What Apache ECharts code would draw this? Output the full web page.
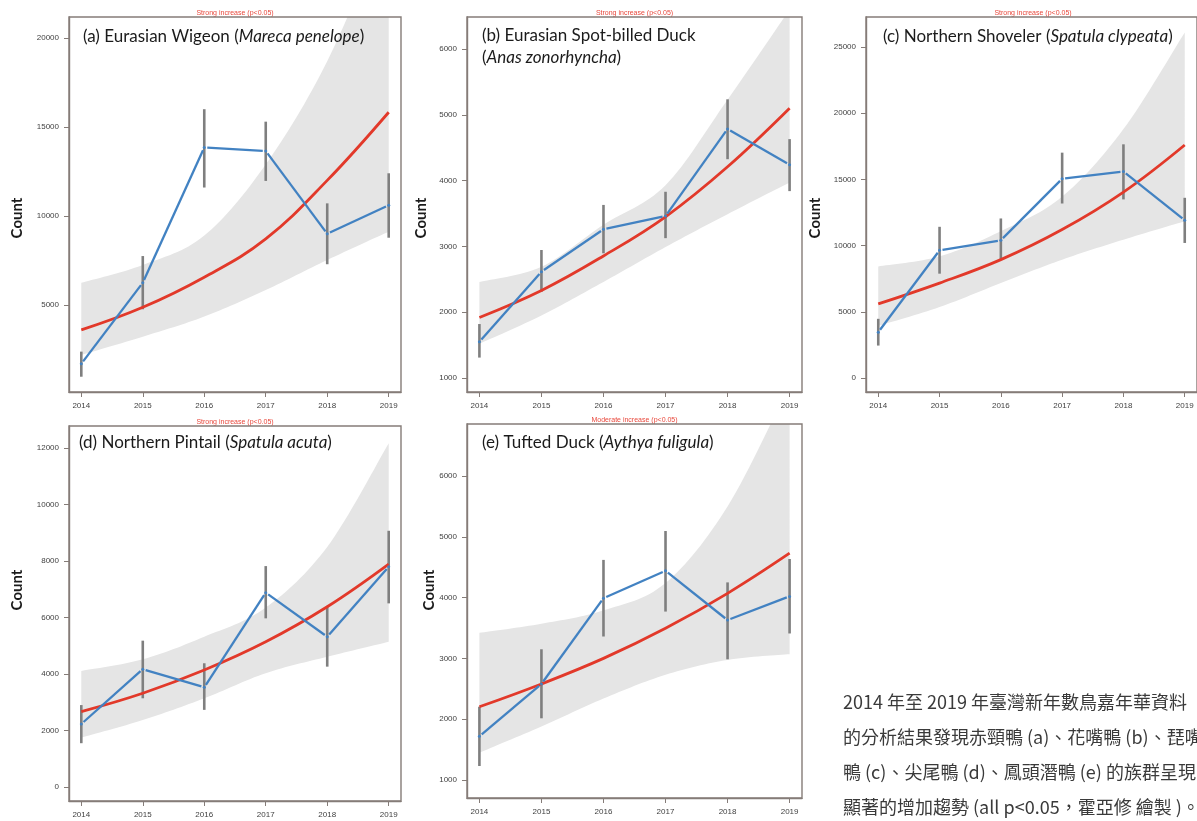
<!DOCTYPE html>
<html>
<head>
<meta charset="utf-8">
<script src="https://cdn.jsdelivr.net/npm/echarts@6.0.0/dist/echarts.min.js"></script>
<style>
  html, body { margin: 0; padding: 0; background: #ffffff; }
  #chart { width: 1197px; height: 821px; }
</style>
</head>
<body>
<div id="chart"></div>
<script>
// Survey years shared by every panel
const years = [2014, 2015, 2016, 2017, 2018, 2019];
const yearLabels = ['2014', '2015', '2016', '2017', '2018', '2019'];

// (a) Eurasian Wigeon
const wigeonCount = [1700, 6250, 13850, 13650, 9000, 10600];
const wigeonLow = [970, 4760, 11600, 11970, 7290, 8780];
const wigeonHigh = [2380, 7750, 16000, 15300, 10710, 12400];
const wigeonTrend = [3600, 4870, 6560, 8710, 12000, 15830];
const wigeonBandLow = [2190, 3220, 4350, 5840, 7530, 9120];
const wigeonBandHigh = [6250, 7250, 8900, 12900, 18700, 26700];
const wigeonTicks = [5000, 10000, 15000, 20000];

// (b) Eurasian Spot-billed Duck
const spotbillCount = [1550, 2615, 3260, 3460, 4785, 4240];
const spotbillLow = [1310, 2310, 2895, 3125, 4325, 3840];
const spotbillHigh = [1820, 2945, 3630, 3830, 5235, 4630];
const spotbillTrend = [1920, 2330, 2855, 3450, 4210, 5100];
const spotbillBandLow = [1520, 1950, 2460, 2990, 3490, 3970];
const spotbillBandHigh = [2460, 2690, 3330, 3930, 5230, 6600];
const spotbillTicks = [1000, 2000, 3000, 4000, 5000, 6000];

// (c) Northern Shoveler
const shovelerCount = [3460, 9640, 10400, 15050, 15600, 11920];
const shovelerLow = [2450, 7880, 8940, 13180, 13490, 10200];
const shovelerHigh = [4470, 11420, 12050, 17020, 17650, 13610];
const shovelerTrend = [5600, 7170, 8940, 11210, 14040, 17600];
const shovelerBandLow = [3940, 5360, 7170, 8940, 10450, 11840];
const shovelerBandHigh = [8430, 9190, 11090, 13700, 18800, 26100];
const shovelerTicks = [0, 5000, 10000, 15000, 20000, 25000];

// (d) Northern Pintail
const pintailCount = [2230, 4170, 3530, 6880, 5320, 7800];
const pintailLow = [1550, 3140, 2730, 5970, 4260, 6500];
const pintailHigh = [2900, 5180, 4380, 7820, 6410, 9070];
const pintailTrend = [2670, 3320, 4140, 5140, 6380, 7890];
const pintailBandLow = [1750, 2370, 3140, 4030, 4610, 5140];
const pintailBandHigh = [4110, 4520, 5320, 6350, 8500, 12170];
const pintailTicks = [0, 2000, 4000, 6000, 8000, 10000, 12000];

// (e) Tufted Duck
const tuftedCount = [1720, 2580, 3990, 4440, 3630, 4020];
const tuftedLow = [1230, 2015, 3360, 3770, 2985, 3410];
const tuftedHigh = [2205, 3150, 4620, 5095, 4250, 4635];
const tuftedTrend = [2205, 2580, 3000, 3495, 4070, 4730];
const tuftedBandLow = [1450, 1880, 2340, 2730, 2975, 3070];
const tuftedBandHigh = [3420, 3570, 3790, 4240, 5500, 7500];
const tuftedTicks = [1000, 2000, 3000, 4000, 5000, 6000];

// Panel headings and trend notes
const titles = [
  '{n|(a) Eurasian Wigeon (}{i|Mareca penelope}{n|)}',
  '{n|(b) Eurasian Spot-billed Duck}\n{n|(}{i|Anas zonorhyncha}{n|)}',
  '{n|(c) Northern Shoveler (}{i|Spatula clypeata}{n|)}',
  '{n|(d) Northern Pintail (}{i|Spatula acuta}{n|)}',
  '{n|(e) Tufted Duck (}{i|Aythya fuligula}{n|)}'
];
const trendNotes = [
  'Strong increase (p<0.05)',
  'Strong increase (p<0.05)',
  'Strong increase (p<0.05)',
  'Strong increase (p<0.05)',
  'Moderate increase (p<0.05)'
];
const yAxisName = 'Count';

// Caption
const captionLines = [
  '2014 年至 2019 年臺灣新年數鳥嘉年華資料',
  '的分析結果發現赤頸鴨 (a)、花嘴鴨 (b)、琵嘴',
  '鴨 (c)、尖尾鴨 (d)、鳳頭潛鴨 (e) 的族群呈現',
  '顯著的增加趨勢 (all p<0.05，霍亞修 繪製 )。'
];

// ---- styling and layout ----
const BLUE = '#4282c2';
const RED = '#e2392a';
const BAR = '#7f7f7f';
const BAND = '#e5e5e5';
const FRAME = '#857c78';
const TICK_TEXT = '#3f3f3f';

const layout = [
  { grid: { left: 69, top: 17, width: 332, height: 375 }, yMin: 112, yMax: 21180, titleLeft: 83, titleTop: 26, noteY: 13, countX: 17, countY: 218 },
  { grid: { left: 467, top: 17, width: 335, height: 375 }, yMin: 787, yMax: 6486, titleLeft: 482, titleTop: 25, noteY: 13, countX: 421, countY: 218 },
  { grid: { left: 866, top: 17, width: 334, height: 375 }, yMin: -1057, yMax: 27266, titleLeft: 883, titleTop: 26, noteY: 13, countX: 815, countY: 218 },
  { grid: { left: 69, top: 426, width: 332, height: 375 }, yMin: -496, yMax: 12779, titleLeft: 79, titleTop: 432, noteY: 422.5, countX: 17, countY: 590 },
  { grid: { left: 467, top: 424, width: 335, height: 374 }, yMin: 704, yMax: 6855, titleLeft: 482, titleTop: 432, noteY: 420, countX: 429, countY: 590 }
];

const panels = [
  { count: wigeonCount, low: wigeonLow, high: wigeonHigh, trend: wigeonTrend, bandLow: wigeonBandLow, bandHigh: wigeonBandHigh, ticks: wigeonTicks },
  { count: spotbillCount, low: spotbillLow, high: spotbillHigh, trend: spotbillTrend, bandLow: spotbillBandLow, bandHigh: spotbillBandHigh, ticks: spotbillTicks },
  { count: shovelerCount, low: shovelerLow, high: shovelerHigh, trend: shovelerTrend, bandLow: shovelerBandLow, bandHigh: shovelerBandHigh, ticks: shovelerTicks },
  { count: pintailCount, low: pintailLow, high: pintailHigh, trend: pintailTrend, bandLow: pintailBandLow, bandHigh: pintailBandHigh, ticks: pintailTicks },
  { count: tuftedCount, low: tuftedLow, high: tuftedHigh, trend: tuftedTrend, bandLow: tuftedBandLow, bandHigh: tuftedBandHigh, ticks: tuftedTicks }
];

const pairs = (vals) => years.map((y, k) => [y, vals[k]]);

// Smooth curve through pixel points (Catmull-Rom segments sampled as a polyline)
function smoothThrough(pts, steps) {
  const out = [pts[0]];
  for (let k = 0; k < pts.length - 1; k++) {
    const p0 = pts[Math.max(k - 1, 0)], p1 = pts[k], p2 = pts[k + 1], p3 = pts[Math.min(k + 2, pts.length - 1)];
    const c1 = [p1[0] + (p2[0] - p0[0]) / 6, p1[1] + (p2[1] - p0[1]) / 6];
    const c2 = [p2[0] - (p3[0] - p1[0]) / 6, p2[1] - (p3[1] - p1[1]) / 6];
    for (let s = 1; s <= steps; s++) {
      const t = s / steps, u = 1 - t;
      out.push([
        u * u * u * p1[0] + 3 * u * u * t * c1[0] + 3 * u * t * t * c2[0] + t * t * t * p2[0],
        u * u * u * p1[1] + 3 * u * u * t * c1[1] + 3 * u * t * t * c2[1] + t * t * t * p2[1]
      ]);
    }
  }
  return out;
}

const grids = [], xAxes = [], yAxes = [], series = [], titleList = [], graphics = [];

panels.forEach((p, i) => {
  const L = layout[i];
  grids.push(Object.assign({ show: true, borderColor: FRAME, borderWidth: 1.4, backgroundColor: 'transparent', z: 6 }, L.grid));

  xAxes.push({
    gridIndex: i, type: 'value', min: 2013.8, max: 2019.2,
    splitLine: { show: false },
    axisLine: { show: true, onZero: false, lineStyle: { color: FRAME, width: 1.4 } },
    axisTick: { show: true, length: 5, customValues: years, lineStyle: { color: FRAME, width: 1 } },
    axisLabel: {
      customValues: years, margin: 10, fontSize: 8, fontFamily: 'Liberation Sans', color: TICK_TEXT,
      formatter: (v) => yearLabels[years.indexOf(v)] || String(v)
    }
  });

  yAxes.push({
    gridIndex: i, type: 'value', min: L.yMin, max: L.yMax,
    splitLine: { show: false },
    axisLine: { show: true, onZero: false, lineStyle: { color: FRAME, width: 1.4 } },
    axisTick: { show: true, length: 5, customValues: p.ticks, lineStyle: { color: FRAME, width: 1 } },
    axisLabel: {
      customValues: p.ticks, margin: 10, fontSize: 8, fontFamily: 'Liberation Sans', color: TICK_TEXT,
      formatter: (v) => String(v)
    }
  });

  // confidence band drawn as one closed shape between its lower and upper edges
  const bandLow = p.bandLow, bandHigh = p.bandHigh;
  series.push({
    type: 'custom', xAxisIndex: i, yAxisIndex: i, clip: true, z: 1, silent: true,
    data: years.map((y, k) => [y, bandLow[k], bandHigh[k]]),
    encode: { x: 0, y: [1, 2] },
    renderItem: (params, api) => {
      if (params.dataIndex !== 0) return null;
      const up = years.map((y, k) => api.coord([y, bandHigh[k]]));
      const dn = years.map((y, k) => api.coord([y, bandLow[k]])).reverse();
      const points = smoothThrough(up, 16).concat(smoothThrough(dn, 16));
      return { type: 'polygon', shape: { points }, style: { fill: BAND } };
    }
  });

  // error bars
  series.push({
    type: 'custom', xAxisIndex: i, yAxisIndex: i, clip: true, z: 2, silent: true,
    data: years.map((y, k) => [y, p.low[k], p.high[k]]),
    encode: { x: 0, y: [1, 2] },
    renderItem: (params, api) => {
      const a = api.coord([api.value(0), api.value(1)]);
      const b = api.coord([api.value(0), api.value(2)]);
      return { type: 'line', shape: { x1: a[0], y1: a[1], x2: b[0], y2: b[1] }, style: { stroke: BAR, lineWidth: 2.6 } };
    }
  });

  // fitted trend
  series.push({
    type: 'line', xAxisIndex: i, yAxisIndex: i, data: pairs(p.trend),
    smooth: 0.4, symbol: 'none', lineStyle: { color: RED, width: 2.8 }, z: 3, silent: true, clip: true
  });

  // yearly counts: points joined by segments that stop short of each point
  const counts = p.count;
  series.push({
    type: 'custom', xAxisIndex: i, yAxisIndex: i, clip: true, z: 4, silent: true,
    data: pairs(counts), encode: { x: 0, y: 1 },
    renderItem: (params, api) => {
      const k = params.dataIndex;
      const pt = api.coord([api.value(0), api.value(1)]);
      const children = [{ type: 'circle', shape: { cx: pt[0], cy: pt[1], r: 1.5 }, style: { fill: BLUE } }];
      if (k < counts.length - 1) {
        const q = api.coord([years[k + 1], counts[k + 1]]);
        const dx = q[0] - pt[0], dy = q[1] - pt[1];
        const len = Math.hypot(dx, dy), gap = 3;
        if (len > 2 * gap) {
          children.push({
            type: 'line',
            shape: { x1: pt[0] + dx * gap / len, y1: pt[1] + dy * gap / len, x2: q[0] - dx * gap / len, y2: q[1] - dy * gap / len },
            style: { stroke: BLUE, lineWidth: 2.3 }
          });
        }
      }
      return { type: 'group', children };
    }
  });

  titleList.push({
    text: titles[i], left: L.titleLeft, top: L.titleTop, padding: 0,
    textStyle: {
      fontFamily: 'Lato', fontSize: 17, fontWeight: 'normal', color: '#1b1b1b', lineHeight: 22,
      rich: {
        n: { fontFamily: 'Lato', fontSize: 17, fontWeight: 'normal', color: '#1b1b1b', lineHeight: 22 },
        i: { fontFamily: 'Lato', fontSize: 17, fontWeight: 'normal', fontStyle: 'italic', color: '#1b1b1b', lineHeight: 22 }
      }
    }
  });

  graphics.push({
    type: 'text', x: L.grid.left + L.grid.width / 2, y: L.noteY, silent: true,
    style: { text: trendNotes[i], fill: '#e8473b', font: '7px "Liberation Sans"', align: 'center', verticalAlign: 'middle', textAlign: 'center', textVerticalAlign: 'middle' }
  });
  graphics.push({
    type: 'text', x: L.countX, y: L.countY, rotation: Math.PI / 2, silent: true,
    style: { text: yAxisName, fill: '#1b1b1b', font: 'bold 15px Lato', align: 'center', verticalAlign: 'middle', textAlign: 'center', textVerticalAlign: 'middle' }
  });
});

const captionY = [702, 737, 772, 807];
captionLines.forEach((line, k) => {
  graphics.push({
    type: 'text', x: 843, y: captionY[k], silent: true,
    style: { text: line, fill: '#3a3a3a', font: '18px "Noto Sans CJK TC"', align: 'left', verticalAlign: 'middle', textAlign: 'left', textVerticalAlign: 'middle' }
  });
});

const chart = echarts.init(document.getElementById('chart'), null, { renderer: 'canvas', width: 1197, height: 821 });
chart.setOption({
  animation: false,
  backgroundColor: '#ffffff',
  title: titleList,
  grid: grids,
  xAxis: xAxes,
  yAxis: yAxes,
  series: series,
  graphic: graphics
});
</script>
</body>
</html>
